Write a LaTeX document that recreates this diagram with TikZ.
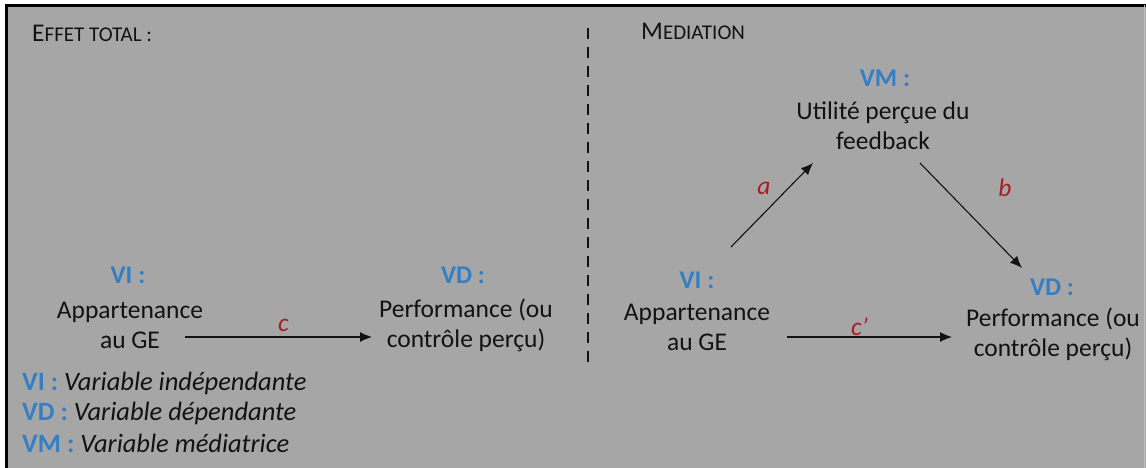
\documentclass[tikz,border=0pt]{standalone}
\usepackage{fontspec}
\setmainfont{Carlito}
\usetikzlibrary{arrows.meta}
\definecolor{medBlue}{RGB}{52,126,198}
\definecolor{medRed}{RGB}{166,30,34}
\definecolor{medGray}{RGB}{166,166,166}
\definecolor{medInk}{RGB}{18,18,18}
\tikzset{
  vartag/.style={font=\fontsize{25.5}{30}\selectfont\bfseries, text=medBlue, inner sep=0pt},
  vartext/.style={font=\fontsize{25.5}{30}\selectfont, text=medInk, align=center, inner sep=0pt},
  pathtag/.style={font=\fontsize{25.5}{30}\selectfont\itshape, text=medRed, inner sep=0pt},
  legline/.style={font=\fontsize{26.5}{30}\selectfont, text=medInk, anchor=west, inner sep=0pt},
  effarrow/.style={-{Latex[length=12pt,width=10pt]}, line width=1.1pt, draw=medInk},
}
% fake small caps for the two headings
\newcommand{\headcaps}[2]{{\fontsize{25.5}{28}\selectfont #1}{\fontsize{21}{24}\selectfont #2}}
\newcommand{\legtag}[1]{\textcolor{medBlue}{\bfseries #1}}
\begin{document}
\begin{tikzpicture}[x=1pt, y=-1pt]
\useasboundingbox (0,0) rectangle (1146,468);
% Background and frame
\fill[white] (0,0) rectangle (1146,468);
\fill[medGray] (5,4) rectangle (1146,468);
\draw[line width=3pt] (6.5,468) -- (6.5,5.5) -- (1146,5.5);
\draw[black!25, line width=1pt] (1144.5,5.5) -- (1144.5,468);
% Divider
\draw[medInk, line width=2pt, dash pattern=on 11pt off 8pt] (588,28) -- (588,363);
% Headings
\node[anchor=base west, inner sep=0pt, text=medInk] (hdTotal) at (32,42) {\headcaps{E}{FFET TOTAL :}};
\node[anchor=base west, inner sep=0pt, text=medInk] (hdMed) at (641,40) {\headcaps{M}{EDIATION}};
% Total effect
\node[vartag] (viTag) at (128,275) {VI :};
\node[vartext] (viBody) at (130,325) {Appartenance\\au GE};
\node[vartag] (vdTag) at (463,275) {VD :};
\node[vartext] (vdBody) at (466,325) {Performance (ou\\contrôle perçu)};
\draw[effarrow] ([shift={(55,12)}]viBody.center) -- node[pathtag, shift={(5,-12)}] (cTag) {c} ([shift={(-94,12)}]vdBody.center);
% Legend
\node[legline] (lgVI) at (22,383) {\legtag{VI :} \textit{Variable indépendante}};
\node[legline] (lgVD) at (22,413) {\legtag{VD :} \textit{Variable dépendante}};
\node[legline] (lgVM) at (22,443) {\legtag{VM :} \textit{Variable médiatrice}};
% Mediation
\node[vartag] (vmTag) at (885,78) {VM :};
\node[vartext] (vmBody) at (883,126) {Utilité perçue du\\feedback};
\node[vartag] (viTagR) at (697,280) {VI :};
\node[vartext] (viBodyR) at (697,327) {Appartenance\\au GE};
\node[vartag] (vdTagR) at (1052,287) {VD :};
\node[vartext] (vdBodyR) at (1053,334) {Performance (ou\\contrôle perçu)};
\draw[effarrow] ([shift={(34,-33)}]viTagR.center) -- node[pathtag, shift={(-8,-17)}] (aTag) {a} ([shift={(-70,37)}]vmBody.center);
\draw[effarrow] ([shift={(37,37)}]vmBody.center) -- node[pathtag, shift={(34,-28)}] (bTag) {b} ([shift={(-30,-19)}]vdTagR.center);
\draw[effarrow] ([shift={(90,10)}]viBodyR.center) -- node[pathtag, shift={(-10,-10)}] (cpTag) {c’} ([shift={(-101,3)}]vdBodyR.center);
\end{tikzpicture}
\end{document}
